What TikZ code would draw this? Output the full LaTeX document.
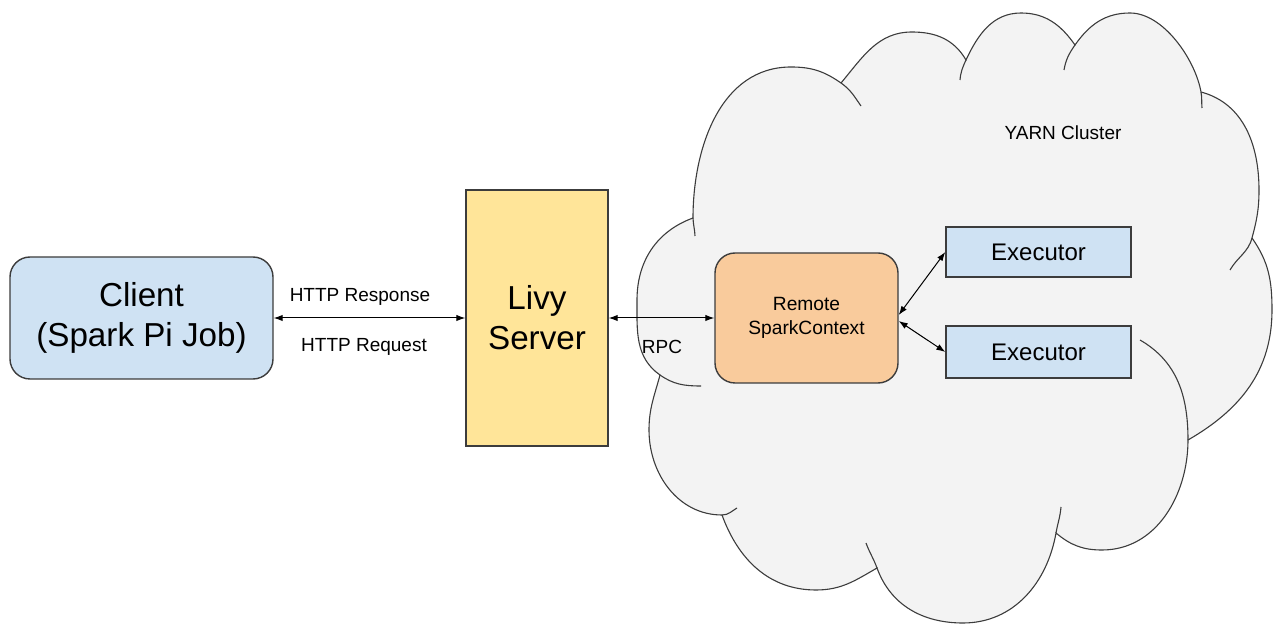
\documentclass[tikz,border=0pt]{standalone}
\usepackage{fontspec}
\setmainfont{Liberation Sans}
\usepackage{tikz}
\usetikzlibrary{
    arrows.meta,
    positioning
}
\definecolor{clientblue}{HTML}{CFE2F3}
\definecolor{livyyellow}{HTML}{FFE599}
\definecolor{remoteorange}{HTML}{F9CB9C}
\definecolor{cloudgray}{HTML}{F3F3F3}
\definecolor{edgegray}{HTML}{3C3C3C}
\tikzset{
    box/.style={draw=edgegray, line width=0.7pt, align=center, inner sep=0pt},
    bigtext/.style={font=\fontsize{16.6}{20}\selectfont},
    midtext/.style={font=\fontsize{12}{14}\selectfont},
    smalltext/.style={font=\fontsize{9.6}{11.8}\selectfont},
    lbl/.style={font=\fontsize{9.5}{11.5}\selectfont, inner sep=0pt},
    cloudline/.style={draw=edgegray, line width=0.55pt},
    link/.style={<->, >={Latex[length=4.5pt,width=3.2pt]}, line width=0.5pt, black}
}

\begin{document}
\begin{tikzpicture}[x=0.5pt,y=0.5pt]
      \useasboundingbox (0,0) rectangle (1275,-625);
      % cusps of the cloud
      \coordinate (A) at (693,-218);
      \coordinate (B) at (841,-83);
      \coordinate (C) at (966,-60);
      \coordinate (D) at (1075,-45);
      \coordinate (E) at (1201,-92);
      \coordinate (F) at (1252,-238);
      \coordinate (G) at (1188,-440);
      \coordinate (H) at (1056,-533);
      \coordinate (I) at (877,-568);
      \coordinate (J) at (722,-515);
      \coordinate (K) at (660,-375);
      \draw[cloudline, fill=cloudgray]
          (A) to[out=90,in=180] (791,-67) to[out=0,in=145] (B)
          to[out=50,in=180] (912,-32) to[out=0,in=120] (C)
          to[out=65,in=180] (1021,-13) to[out=0,in=125] (D)
          to[out=55,in=180] (1130,-13) to[out=0,in=100,looseness=0.8] (E)
          to[out=-15,in=90] (1259,-190) to[out=-90,in=75] (F)
          to[out=-55,in=90] (1272,-310) to[out=-90,in=30] (G)
          to[out=-90,in=0] (1102,-550) to[out=180,in=-40] (H)
          to[out=-100,in=0] (963,-623) to[out=180,in=-70] (I)
          to[out=-150,in=0] (816,-590) to[out=180,in=-70] (J)
          to[out=180,in=-90] (649,-430) to[out=90,in=-105] (K)
          to[out=145,in=-90] (637,-300) to[out=90,in=-160] (A) -- cycle;
      % inner ends of the bumps
      \draw[cloudline]
          (A) to[out=-88,in=92] (695,-236)
          (B) to[out=-35,in=125] (861,-106)
          (C) to[out=-115,in=85] (960,-80)
          (D) to[out=-125,in=80] (1064,-70)
          (E) to[out=-80,in=95] (1202,-108)
          (F) to[out=-105,in=60] (1230,-270)
          (G) to[out=90,in=-30] (1140,-340)
          (H) to[out=80,in=-95] (1061,-507)
          (I) to[out=110,in=-70] (866,-543)
          (J) to[out=0,in=-150] (737,-508)
          (K) to[out=-35,in=180] (701,-386);
      \node[lbl] (yarn) at (1063,-133) {YARN Cluster};
      \node[box, fill=clientblue, rounded corners=10pt, minimum width=131.5pt, minimum height=61pt, bigtext] (client) at (141.5,-318) {Client\\(Spark Pi Job)};
      \node[box, fill=livyyellow, minimum width=71pt, minimum height=128pt, bigtext] (livy) at (537,-318) {Livy\\Server};
      \node[box, fill=remoteorange, rounded corners=10pt, minimum width=91.5pt, minimum height=65pt, smalltext] (remote) at (806.5,-318) {Remote\\SparkContext};
      \node[box, fill=clientblue, minimum width=92.5pt, minimum height=25pt, midtext] (exec1) at (1038.5,-252) {Executor};
      \node[box, fill=clientblue, minimum width=92.5pt, minimum height=26pt, midtext] (exec2) at (1038.5,-352) {Executor};
      \draw[link] (client) -- (livy);
      \draw[link] (livy) -- (remote);
      \draw[link] ([yshift=1.5pt]remote.east) -- (exec1.west);
      \draw[link] ([yshift=-1.5pt]remote.east) -- (exec2.west);
      \node[lbl] (resp) at (360,-297) {HTTP Response};
      \node[lbl] (req) at (364,-347) {HTTP Request};
      \node[lbl] (rpc) at (662,-347) {RPC};
    \end{tikzpicture}
\end{document}
